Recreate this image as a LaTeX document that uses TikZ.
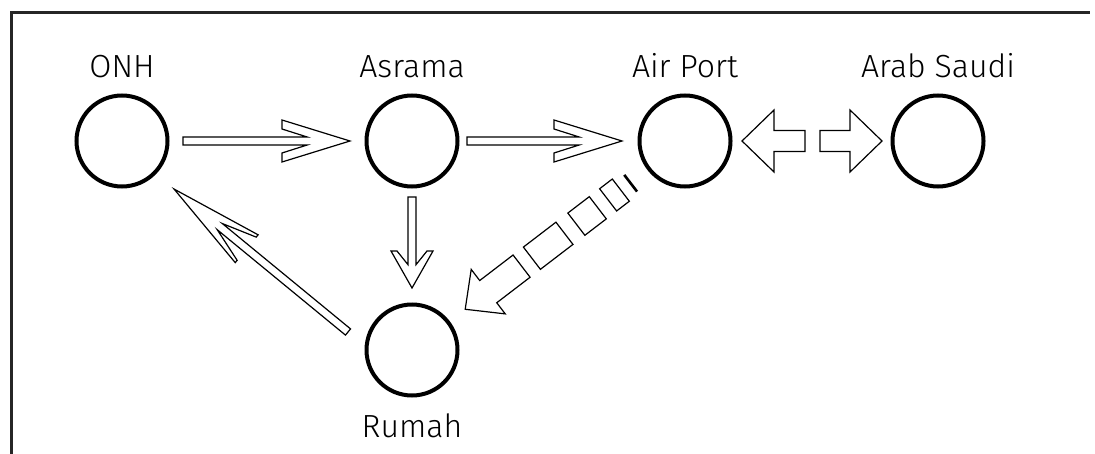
\documentclass[tikz,border=0pt]{standalone}
\usepackage{fontspec}
\setmainfont{Fira Sans Light}
\usetikzlibrary{calc}
\tikzstyle{station}=[circle,draw=black,line width=2pt,minimum size=45.5pt,inner sep=0pt]
\tikzstyle{outline}=[draw=black,line width=0.6pt,fill=white,line join=miter]
\tikzstyle{frameline}=[draw=black!85,line width=1.5pt]
\tikzstyle{every label}=[inner sep=0pt,font=\fontsize{16pt}{19pt}\selectfont]

% angle and length from #1 to #2
\newcommand{\arrframe}[2]{%
  \path (#1) coordinate (arrtail) (#2) coordinate (arrtip);
  \pgfpointdiff{\pgfpointanchor{arrtail}{center}}{\pgfpointanchor{arrtip}{center}}%
  \pgfgetlastxy{\arrdx}{\arrdy}%
  \pgfmathsetmacro\arrlen{veclen(\arrdx,\arrdy)}%
  \pgfmathsetmacro\arrang{atan2(\arrdy,\arrdx)}}
% thin arrow with barbed head: tail, tip, head length, head half width, barb
\newcommand{\barbarrow}[5]{%
  \arrframe{#1}{#2}%
  \begin{scope}[shift={(arrtail)},rotate=\arrang]
    \draw[outline] (0pt,-2pt) -- ({\arrlen pt-0.63*#3},-2pt) -- ({\arrlen pt-#3},{-#4+#5})
      -- ({\arrlen pt-#3},-#4) -- (\arrlen pt,0pt) -- ({\arrlen pt-#3},#4)
      -- ({\arrlen pt-#3},{#4-#5}) -- ({\arrlen pt-0.63*#3},2pt) -- (0pt,2pt) -- cycle;
  \end{scope}}
% wide arrow: tail, tip, head length, head half width, shaft half width
\newcommand{\blockarrow}[5]{%
  \arrframe{#1}{#2}%
  \begin{scope}[shift={(arrtail)},rotate=\arrang]
    \draw[outline] (0pt,-#5) -- ({\arrlen pt-#3},-#5) -- ({\arrlen pt-#3},-#4) -- (\arrlen pt,0pt)
      -- ({\arrlen pt-#3},#4) -- ({\arrlen pt-#3},#5) -- (0pt,#5) -- cycle;
  \end{scope}}
% broken wide arrow: tip, pointing away from #2
\newcommand{\brokenarrow}[2]{%
  \arrframe{#1}{#2}%
  \begin{scope}[shift={(arrtail)},rotate=\arrang]
    \draw[outline] (0pt,0pt) -- (14.5pt,14pt) -- (14.5pt,7pt) -- (35.5pt,7pt)
      -- (35.5pt,-7pt) -- (14.5pt,-7pt) -- (14.5pt,-14pt) -- cycle;
    \foreach \from/\to in {42/62.5,70/83.5,90/98}
      \draw[outline] (\from pt,-7pt) rectangle (\to pt,7pt);
    \draw[line width=1.3pt] (104pt,-5.5pt) -- (104pt,5pt);
  \end{scope}}

\begin{document}
\begin{tikzpicture}[x=0.5pt,y=-0.5pt,node distance=145pt,label distance=7.8pt]
    \useasboundingbox (0,0) rectangle (1095,454);
    \draw[frameline] (11,454) -- (11,13) -- (1090,13);

    \node (onh)[station,label={above:ONH}] at (122,141) {};
    \node (asrama)[station,right of=onh,label={above:Asrama}]{};
    \node (airport)[station,right of=asrama,xshift=-8.5pt,label={above:Air Port}]{};
    \node (arabsaudi)[station,right of=airport,xshift=-18.5pt,label={above:Arab Saudi}]{};
    \node (rumah)[station,below of=asrama,yshift=40.5pt,label={below:Rumah}]{};

    \barbarrow{$(onh)!30.5pt!(asrama)$}{$(onh)!114pt!(asrama)$}{34pt}{10.5pt}{4.5pt}
    \barbarrow{$(asrama)!27.5pt!(airport)$}{$(asrama)!105pt!(airport)$}{34pt}{10.5pt}{4.5pt}
    \barbarrow{$(asrama)!28pt!(rumah)$}{$(asrama)!73.5pt!(rumah)$}{18.5pt}{10.5pt}{3pt}
    \barbarrow{$(rumah)+(-32pt,9pt)$}{$(onh)+(26pt,-24pt)$}{47pt}{9pt}{1.5pt}
    \blockarrow{$(airport)!60pt!(arabsaudi)$}{$(airport)!28.5pt!(arabsaudi)$}{16pt}{15.5pt}{5.25pt}
    \blockarrow{$(arabsaudi)!59pt!(airport)$}{$(arabsaudi)!28pt!(airport)$}{16pt}{15.5pt}{5.25pt}
    \brokenarrow{$(rumah)!33.5pt!(airport)$}{airport}
\end{tikzpicture}
\end{document}
